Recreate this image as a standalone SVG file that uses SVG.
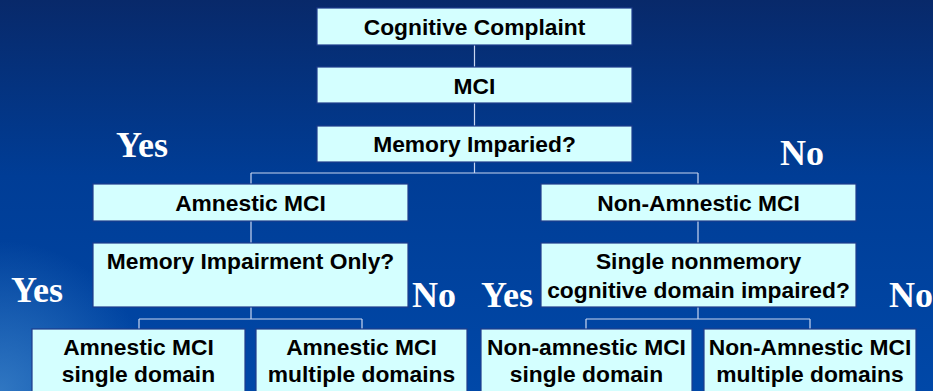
<svg xmlns="http://www.w3.org/2000/svg" width="933" height="391" viewBox="0 0 933 391">
<defs>
<linearGradient id="bg" x1="0" y1="0" x2="0" y2="1">
<stop offset="0" stop-color="#08296a"/>
<stop offset="0.45" stop-color="#003d96"/>
<stop offset="1" stop-color="#0048a8"/>
</linearGradient>
<radialGradient id="glow" cx="0" cy="391" r="150" gradientUnits="userSpaceOnUse">
<stop offset="0" stop-color="#4a90d0" stop-opacity="0.65"/>
<stop offset="1" stop-color="#4a90d0" stop-opacity="0"/>
</radialGradient>
<style>
.box{fill:#d4ffff;stroke:#1f3c8c;stroke-width:1.2}
.t{font-family:"Liberation Sans",Arial,sans-serif;font-weight:bold;font-size:22.8px;fill:#000;text-anchor:middle}
.lbl{font-family:"Liberation Serif","Times New Roman",serif;font-weight:bold;font-size:36px;fill:#fff}
.c{stroke:#c8d6f0;stroke-width:1.2;fill:none}
</style>
</defs>
<rect width="933" height="391" fill="url(#bg)"/>
<rect width="933" height="391" fill="url(#glow)"/>
<g id="connectors">
<path class="c" d="M474.5 45V68M474.5 103V126M474.5 162V173M251 173H698M251 173V184M698 173V184"/>
<path class="c" d="M251 221V243M251 307V319M139 319H362M139 319V329M362 319V329"/>
<path class="c" d="M698 221V243M698 307V319M586 319H810M586 319V329M810 319V329"/>
</g>
<g id="n1"><rect class="box" x="317" y="8" width="315" height="37"/><text class="t" x="474.5" y="35">Cognitive Complaint</text></g>
<g id="n2"><rect class="box" x="317" y="67" width="315" height="36"/><text class="t" x="474.5" y="94">MCI</text></g>
<g id="n3"><rect class="box" x="317" y="126" width="315" height="36"/><text class="t" x="474.5" y="152">Memory Imparied?</text></g>
<g id="n4"><rect class="box" x="93" y="184" width="315" height="37"/><text class="t" x="250.5" y="211">Amnestic MCI</text></g>
<g id="n5"><rect class="box" x="541" y="184" width="315" height="37"/><text class="t" x="698.5" y="211">Non-Amnestic MCI</text></g>
<g id="n6"><rect class="box" x="93" y="243" width="315" height="64"/><text class="t" x="250.5" y="269">Memory Impairment Only?</text></g>
<g id="n7"><rect class="box" x="541" y="243" width="315" height="64"/><text class="t" x="698.5" y="269">Single nonmemory</text><text class="t" x="698.5" y="298">cognitive domain impaired?</text></g>
<g id="n8"><rect class="box" x="32" y="329" width="213" height="70"/><text class="t" x="138.5" y="355">Amnestic MCI</text><text class="t" x="138.5" y="382">single domain</text></g>
<g id="n9"><rect class="box" x="256" y="329" width="211" height="70"/><text class="t" x="361.5" y="355">Amnestic MCI</text><text class="t" x="361.5" y="382">multiple domains</text></g>
<g id="n10"><rect class="box" x="481" y="329" width="211" height="70"/><text class="t" x="586.5" y="355">Non-amnestic MCI</text><text class="t" x="586.5" y="382">single domain</text></g>
<g id="n11"><rect class="box" x="704" y="329" width="212" height="70"/><text class="t" x="810" y="355">Non-Amnestic MCI</text><text class="t" x="810" y="382">multiple domains</text></g>
<g id="labels">
<text class="lbl" x="116" y="157">Yes</text>
<text class="lbl" x="780" y="165">No</text>
<text class="lbl" x="11" y="302">Yes</text>
<text class="lbl" x="412" y="307">No</text>
<text class="lbl" x="481" y="307">Yes</text>
<text class="lbl" x="889" y="307">No</text>
</g>
</svg>
